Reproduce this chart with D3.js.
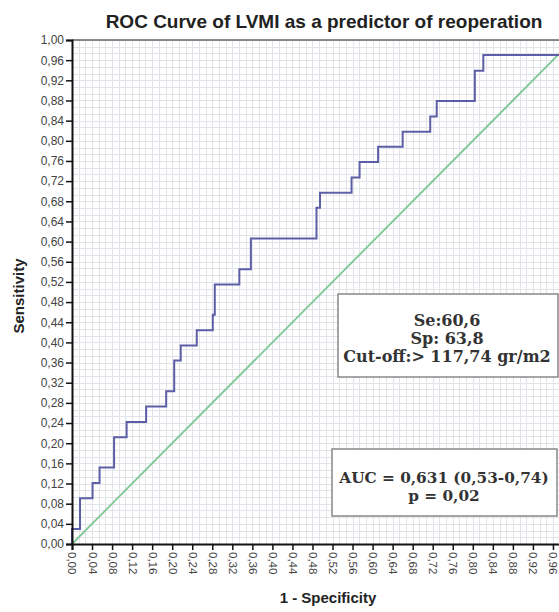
<!DOCTYPE html>
<html>
<head>
<meta charset="utf-8">
<script src="https://cdn.jsdelivr.net/npm/d3@7"></script>
<style>
  html, body { margin: 0; padding: 0; background: #fff; }
  svg { display: block; }
</style>
</head>
<body>
<script>
// ROC operating points (1 - specificity, sensitivity), in drawing order
const fpr = [0, 0, 0.016, 0.016, 0.041, 0.041, 0.055, 0.055, 0.084, 0.084,
  0.109, 0.109, 0.148, 0.148, 0.188, 0.188, 0.204, 0.204, 0.217, 0.217,
  0.249, 0.249, 0.281, 0.281, 0.285, 0.285, 0.334, 0.334, 0.357, 0.357,
  0.488, 0.488, 0.495, 0.495, 0.558, 0.558, 0.574, 0.574, 0.611, 0.611,
  0.660, 0.660, 0.715, 0.715, 0.728, 0.728, 0.804, 0.804, 0.821, 0.821, 1, 1];
const tpr = [0, 0.030, 0.030, 0.091, 0.091, 0.121, 0.121, 0.152, 0.152, 0.212,
  0.212, 0.242, 0.242, 0.273, 0.273, 0.303, 0.303, 0.364, 0.364, 0.394,
  0.394, 0.424, 0.424, 0.455, 0.455, 0.515, 0.515, 0.545, 0.545, 0.606,
  0.606, 0.667, 0.667, 0.697, 0.697, 0.727, 0.727, 0.758, 0.758, 0.788,
  0.788, 0.818, 0.818, 0.848, 0.848, 0.879, 0.879, 0.939, 0.939, 0.970, 0.970, 1];

// Chance (reference) line
const refLine = [0, 1];

// Axis ticks
const yTickValues = d3.range(0, 26).map(i => +(i * 0.04).toFixed(2));
const xTickValues = d3.range(0, 25).map(i => +(i * 0.04).toFixed(2));

// Annotation texts
const title = "ROC Curve of LVMI as a predictor of reoperation";
const xTitle = "1 - Specificity";
const yTitle = "Sensitivity";
const cutoffLines = ["Se:60,6", "Sp: 63,8", "Cut-off:> 117,74 gr/m2"];
const aucLines = ["AUC = 0,631 (0,53-0,74)", "p = 0,02"];

const W = 559, H = 612;
const svg = d3.select("body").append("svg").attr("width", W).attr("height", H);
svg.append("rect").attr("width", W).attr("height", H).attr("fill", "#fff");

const x = d3.scaleLinear().domain([0, 1]).range([72, 573]);
const y = d3.scaleLinear().domain([0, 1]).range([544, 40]);
const fmt = v => d3.format(".2f")(v).replace(".", ",");

// fine grid: three cells per tick interval
const gridVals = d3.range(0, 76).map(i => i / 75);
const grid = svg.append("g").attr("stroke", "#e3e3ea").attr("stroke-width", 1);
grid.selectAll("line.v").data(gridVals).join("line")
  .attr("x1", d => Math.round(x(d)) + 0.5).attr("x2", d => Math.round(x(d)) + 0.5)
  .attr("y1", y(1)).attr("y2", y(0));
grid.selectAll("line.h").data(gridVals).join("line")
  .attr("y1", d => Math.round(y(d)) + 0.5).attr("y2", d => Math.round(y(d)) + 0.5)
  .attr("x1", x(0)).attr("x2", x(1));

// top frame
svg.append("line").attr("x1", x(0)).attr("x2", x(1)).attr("y1", y(1)).attr("y2", y(1))
  .attr("stroke", "#666").attr("stroke-width", 1.5);

// reference diagonal
svg.append("line")
  .attr("x1", x(refLine[0])).attr("y1", y(refLine[0]))
  .attr("x2", x(refLine[1])).attr("y2", y(refLine[1]))
  .attr("stroke", "#7cc896").attr("stroke-width", 1.8);

// ROC curve
const pts = fpr.map((f, i) => [f, tpr[i]]);
svg.append("path")
  .attr("d", d3.line().x(d => x(d[0])).y(d => y(d[1]))(pts))
  .attr("fill", "none").attr("stroke", "#5c5fa6").attr("stroke-width", 2)
  .attr("stroke-linejoin", "miter");

// Y axis
const yAxis = svg.append("g").attr("transform", `translate(${x(0)},0)`)
  .call(d3.axisLeft(y).tickValues(yTickValues).tickFormat(fmt).tickSize(6).tickPadding(2));
yAxis.select(".domain").attr("stroke", "#111").attr("stroke-width", 2);
yAxis.selectAll(".tick line").attr("stroke", "#111").attr("stroke-width", 1.5);
yAxis.selectAll(".tick text").attr("fill", "#444")
  .style("font-family", "Liberation Sans, Arial, sans-serif").style("font-size", "12px");

// X axis
const xAxis = svg.append("g").attr("transform", `translate(0,${y(0)})`)
  .call(d3.axisBottom(x).tickValues(xTickValues).tickFormat(fmt).tickSize(6).tickPadding(2));
xAxis.select(".domain").attr("stroke", "#111").attr("stroke-width", 2);
xAxis.selectAll(".tick line").attr("stroke", "#111").attr("stroke-width", 1.5);
xAxis.selectAll(".tick text").attr("fill", "#444")
  .style("font-family", "Liberation Sans, Arial, sans-serif").style("font-size", "11.5px")
  .attr("transform", "rotate(90)")
  .attr("x", 8).attr("y", 0).attr("dy", "0.35em")
  .attr("text-anchor", "start");

// Titles
svg.append("text").attr("x", 324).attr("y", 28).attr("text-anchor", "middle")
  .style("font-family", "Liberation Sans, Arial, sans-serif").style("font-weight", "bold")
  .style("font-size", "19px").attr("fill", "#222").text(title);
svg.append("text").attr("x", 328).attr("y", 603).attr("text-anchor", "middle")
  .style("font-family", "Liberation Sans, Arial, sans-serif").style("font-weight", "bold")
  .style("font-size", "15px").attr("fill", "#222").text(xTitle);
svg.append("text").attr("transform", "translate(24,296) rotate(-90)").attr("text-anchor", "middle")
  .style("font-family", "Liberation Sans, Arial, sans-serif").style("font-weight", "bold")
  .style("font-size", "15px").attr("fill", "#222").text(yTitle);

// Annotation boxes
function box(x0, y0, w, h, lines, cx, baselines, size) {
  const g = svg.append("g");
  g.append("rect").attr("x", x0).attr("y", y0).attr("width", w).attr("height", h)
    .attr("fill", "#fff").attr("stroke", "#888").attr("stroke-width", 1.5);
  g.selectAll("text").data(lines).join("text")
    .attr("x", cx).attr("y", (d, i) => baselines[i]).attr("text-anchor", "middle")
    .style("font-family", "DejaVu Serif, serif").style("font-weight", "bold")
    .style("font-size", size + "px").attr("fill", "#333").text(d => d);
}
box(338, 294, 220, 83, cutoffLines, 447, [326, 344, 362], 16);
box(332, 449, 225, 67, aucLines, 444, [483, 501], 15.3);
</script>
</body>
</html>
